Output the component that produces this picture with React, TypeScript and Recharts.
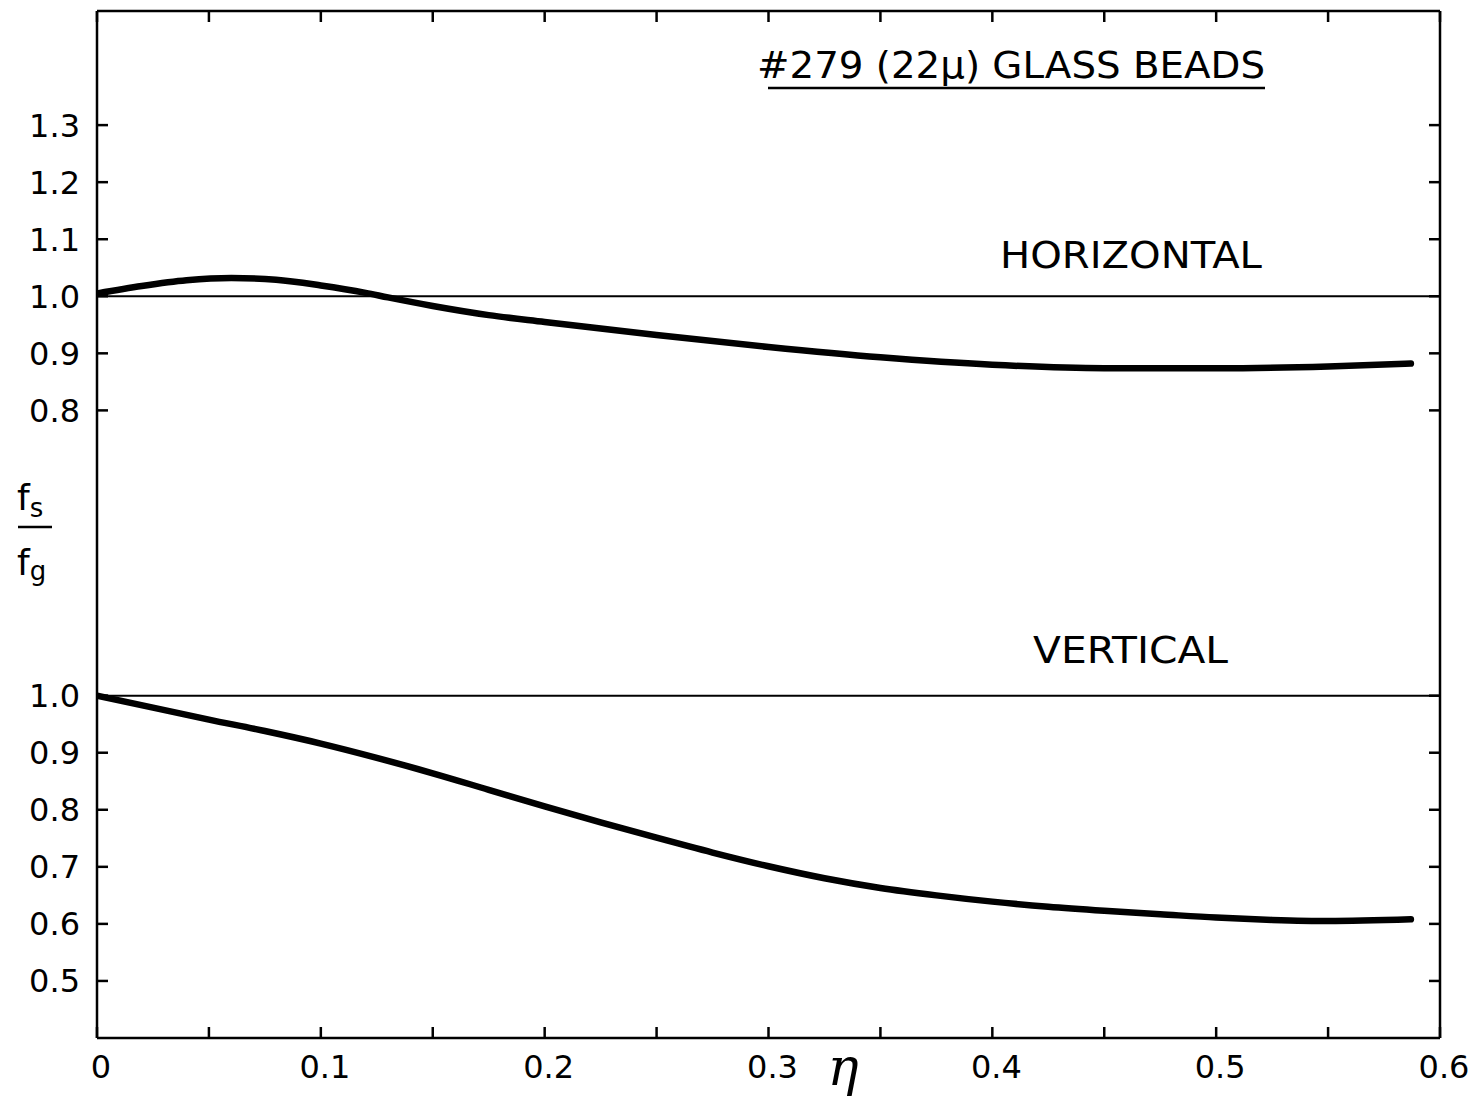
import React from 'react';
import { LineChart, Line, XAxis, YAxis, ReferenceLine } from 'recharts';

// ---- data ----
const LOWER_OFFSET = 0.7; // the lower (VERTICAL) panel is drawn 0.7 units below the upper one

const horizontalEta = [0, 0.02, 0.04, 0.06, 0.08, 0.1, 0.12, 0.13, 0.15, 0.175, 0.2, 0.25, 0.3, 0.35, 0.4, 0.45, 0.5, 0.55, 0.587];
const horizontalRatio = [1.005, 1.018, 1.028, 1.032, 1.029, 1.019, 1.006, 0.998, 0.983, 0.967, 0.955, 0.932, 0.911, 0.893, 0.88, 0.874, 0.874, 0.877, 0.882];

const verticalEta = [0, 0.025, 0.05, 0.075, 0.1, 0.125, 0.15, 0.175, 0.2, 0.225, 0.25, 0.275, 0.3, 0.325, 0.35, 0.375, 0.4, 0.425, 0.45, 0.475, 0.5, 0.525, 0.55, 0.587];
const verticalRatio = [1.0, 0.979, 0.958, 0.938, 0.916, 0.891, 0.864, 0.835, 0.806, 0.778, 0.751, 0.725, 0.701, 0.68, 0.663, 0.65, 0.639, 0.63, 0.623, 0.617, 0.611, 0.607, 0.605, 0.608];

const xAllTicks = [0, 0.05, 0.1, 0.15, 0.2, 0.25, 0.3, 0.35, 0.4, 0.45, 0.5, 0.55, 0.6];
const xLabelTicks = [0, 0.1, 0.2, 0.3, 0.4, 0.5, 0.6];
const upperTicks = [0.8, 0.9, 1.0, 1.1, 1.2, 1.3];
const lowerTicks = [0.5, 0.6, 0.7, 0.8, 0.9, 1.0];

const titleText = '#279 (22\u03BC) GLASS BEADS';
const upperLabel = 'HORIZONTAL';
const lowerLabel = 'VERTICAL';

// ---- derived tables ----
const upperData = horizontalEta.map((e, i) => ({ eta: e, v: horizontalRatio[i] }));
const lowerData = verticalEta.map((e, i) => ({ eta: e, v: verticalRatio[i] - LOWER_OFFSET }));
const yTicks = [...lowerTicks.map((t) => +(t - LOWER_OFFSET).toFixed(3)), ...upperTicks];

const W = 1468;
const H = 1100;
const FONT = '"DejaVu Sans", "Liberation Sans", sans-serif';

const yLabelOf = (v: number) => (v < 0.55 ? (v + LOWER_OFFSET).toFixed(1) : v.toFixed(1));
const xLabelOf = (v: number) => (Math.abs(v) < 1e-9 ? '0' : v.toFixed(1));

const LeftTick = (props: any) => {
  const { x, y, payload } = props;
  return (
    <g>
      <line x1={x} x2={x + 11} y1={y} y2={y} stroke="#000" strokeWidth={2.5} />
      <text x={x - 17} y={y} dy="0.36em" textAnchor="end" fontFamily={FONT} fontSize={32} fill="#000">
        {yLabelOf(payload.value)}
      </text>
    </g>
  );
};

const RightTick = (props: any) => {
  const { x, y } = props;
  return <line x1={x} x2={x - 11} y1={y} y2={y} stroke="#000" strokeWidth={2.5} />;
};

const BottomTick = (props: any) => {
  const { x, y, payload } = props;
  const isLabel = xLabelTicks.some((t) => Math.abs(t - payload.value) < 1e-6);
  return (
    <g>
      <line x1={x} x2={x} y1={y} y2={y - 11} stroke="#000" strokeWidth={2.5} />
      {isLabel && (
        <text x={x + 4} y={y + 40} textAnchor="middle" fontFamily={FONT} fontSize={32} fill="#000">
          {xLabelOf(payload.value)}
        </text>
      )}
    </g>
  );
};

const TopTick = (props: any) => {
  const { x, y } = props;
  return <line x1={x} x2={x} y1={y} y2={y + 11} stroke="#000" strokeWidth={2.5} />;
};

export default function App() {
  return (
    <div style={{ position: 'absolute', left: 0, top: 0, width: W, height: H, background: '#fff' }}>
      <LineChart width={W} height={H} margin={{ top: 10, right: 27, bottom: 12, left: 7 }}>
        <XAxis
          xAxisId="b"
          dataKey="eta"
          type="number"
          domain={[0, 0.6]}
          ticks={xAllTicks}
          interval={0}
          allowDataOverflow
          height={50}
          tickSize={0}
          tickMargin={0}
          tickLine={false}
          axisLine={{ stroke: '#000', strokeWidth: 2.5 }}
          tick={(p: any) => <BottomTick {...p} />}
        />
        <XAxis
          xAxisId="t"
          orientation="top"
          dataKey="eta"
          type="number"
          domain={[0, 0.6]}
          ticks={xAllTicks}
          interval={0}
          allowDataOverflow
          height={1}
          tickSize={0}
          tickMargin={0}
          tickLine={false}
          axisLine={{ stroke: '#000', strokeWidth: 2.5 }}
          tick={(p: any) => <TopTick {...p} />}
        />
        <YAxis
          yAxisId="l"
          type="number"
          domain={[-0.3, 1.5]}
          ticks={yTicks}
          interval={0}
          allowDataOverflow
          width={90}
          tickSize={0}
          tickMargin={0}
          tickLine={false}
          axisLine={{ stroke: '#000', strokeWidth: 2.5 }}
          tick={(p: any) => <LeftTick {...p} />}
        />
        <YAxis
          yAxisId="r"
          orientation="right"
          type="number"
          domain={[-0.3, 1.5]}
          ticks={yTicks}
          interval={0}
          allowDataOverflow
          width={1}
          tickSize={0}
          tickMargin={0}
          tickLine={false}
          axisLine={{ stroke: '#000', strokeWidth: 2.5 }}
          tick={(p: any) => <RightTick {...p} />}
        />
        <ReferenceLine xAxisId="b" yAxisId="l" y={1.0} stroke="#000" strokeWidth={2} />
        <ReferenceLine xAxisId="b" yAxisId="l" y={1.0 - LOWER_OFFSET} stroke="#000" strokeWidth={2} />
        <Line
          xAxisId="b"
          yAxisId="l"
          data={upperData}
          dataKey="v"
          type="monotone"
          stroke="#000"
          strokeWidth={6.5}
          dot={false}
          activeDot={false}
          isAnimationActive={false}
          strokeLinecap="round"
        />
        <Line
          xAxisId="b"
          yAxisId="l"
          data={lowerData}
          dataKey="v"
          type="monotone"
          stroke="#000"
          strokeWidth={6.5}
          dot={false}
          activeDot={false}
          isAnimationActive={false}
          strokeLinecap="round"
        />
      </LineChart>
      <svg
        width={W}
        height={H}
        style={{ position: 'absolute', left: 0, top: 0, pointerEvents: 'none' }}
      >
        <text x={757} y={78} fontFamily={FONT} fontSize={38} fill="#000" textLength={508} lengthAdjust="spacingAndGlyphs">
          {titleText}
        </text>
        <line x1={768} x2={1265} y1={88} y2={88} stroke="#000" strokeWidth={2.5} />
        <text x={1000} y={268} fontFamily={FONT} fontSize={38} fill="#000" textLength={262} lengthAdjust="spacingAndGlyphs">
          {upperLabel}
        </text>
        <text x={1033} y={663} fontFamily={FONT} fontSize={38} fill="#000" textLength={195} lengthAdjust="spacingAndGlyphs">
          {lowerLabel}
        </text>
        <text x={17} y={510} fontFamily={FONT} fontSize={36} fill="#000">
          f<tspan fontSize={26} dy={7}>s</tspan>
        </text>
        <line x1={18} x2={52} y1={527} y2={527} stroke="#000" strokeWidth={2.5} />
        <text x={17} y={575} fontFamily={FONT} fontSize={36} fill="#000">
          f<tspan fontSize={26} dy={5}>g</tspan>
        </text>
        <text x={843} y={1085} textAnchor="middle" fontFamily='"DejaVu Serif", serif' fontStyle="italic" fontSize={52} fill="#000">
          {'\u03B7'}
        </text>
      </svg>
    </div>
  );
}
